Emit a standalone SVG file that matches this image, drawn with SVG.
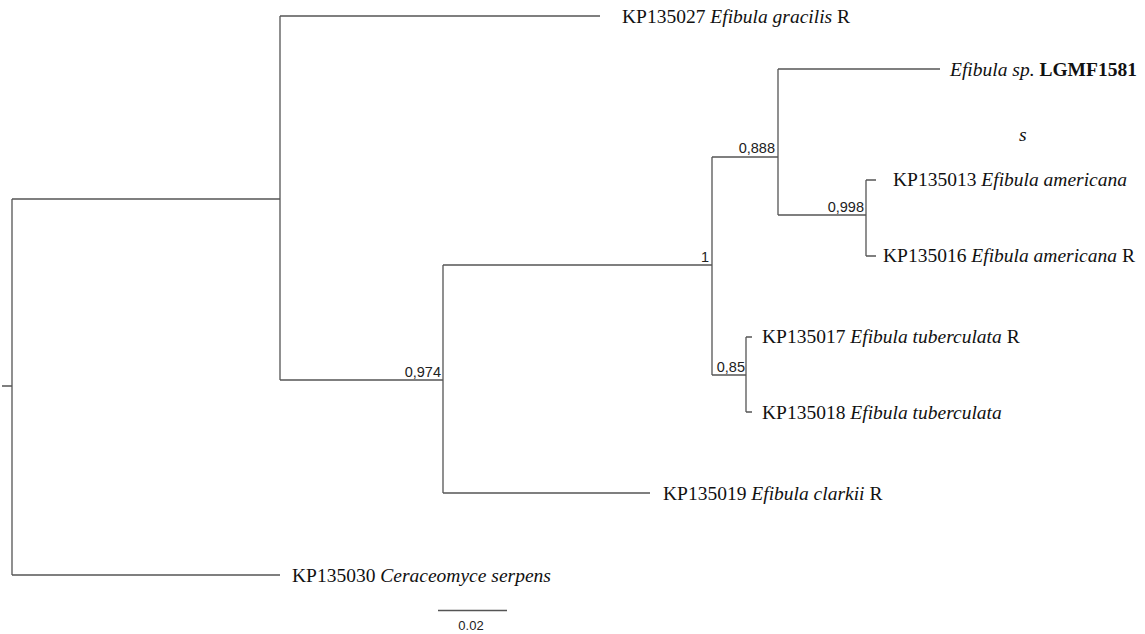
<svg xmlns="http://www.w3.org/2000/svg" width="1145" height="634" viewBox="0 0 1145 634">
<style>
.br{fill:none;stroke:#555;stroke-width:1.3}
.tx{font-family:"Liberation Serif",serif;font-size:19.5px;fill:#111}
.it{font-style:italic}
.bs{font-family:"Liberation Sans",sans-serif;font-size:14.5px;fill:#222;text-anchor:end}
.sc{font-family:"Liberation Sans",sans-serif;font-size:13px;fill:#222;text-anchor:middle}
</style>
<rect width="1145" height="634" fill="#fff"/>
<g id="connectors" class="br">
<path d="M2 386H12M12 199V575M12 199H280M12 575H280"/>
<path d="M280 16V380M280 16H600M280 380H443"/>
<path d="M443 265V493M443 265H712M443 493H650"/>
<path d="M712 157V375M712 157H778M712 375H746"/>
<path d="M778 69V215M778 69H940M778 215H866"/>
<path d="M866 180V256M866 180H876M866 256H876"/>
<path d="M746 337V412M746 337H752M746 412H752"/>
</g>
<g id="bootstrap">
<text class="bs" x="441" y="377">0,974</text>
<text class="bs" x="709" y="262">1</text>
<text class="bs" x="775" y="153">0,888</text>
<text class="bs" x="864" y="212">0,998</text>
<text class="bs" x="745" y="372">0,85</text>
</g>
<g id="t-gracilis"><text class="tx" x="622" y="23">KP135027 <tspan class="it">Efibula gracilis</tspan> R</text></g>
<g id="t-lgmf"><text class="tx" x="950" y="76"><tspan class="it">Efibula sp.</tspan> <tspan font-weight="bold">LGMF1581</tspan></text>
<text class="tx it" x="1019" y="141">s</text></g>
<g id="t-am13"><text class="tx" x="893" y="186">KP135013 <tspan class="it">Efibula americana</tspan></text></g>
<g id="t-am16"><text class="tx" x="883" y="262">KP135016 <tspan class="it">Efibula americana</tspan> R</text></g>
<g id="t-tu17"><text class="tx" x="762" y="343">KP135017 <tspan class="it">Efibula tuberculata</tspan> R</text></g>
<g id="t-tu18"><text class="tx" x="762" y="419">KP135018 <tspan class="it">Efibula tuberculata</tspan></text></g>
<g id="t-clarkii"><text class="tx" x="663" y="500">KP135019 <tspan class="it">Efibula clarkii</tspan> R</text></g>
<g id="t-cera"><text class="tx" x="292" y="582">KP135030 <tspan class="it">Ceraceomyce serpens</tspan></text></g>
<g id="scale">
<path class="br" d="M438 610.5H507"/>
<text class="sc" x="471" y="630">0.02</text>
</g>
</svg>
